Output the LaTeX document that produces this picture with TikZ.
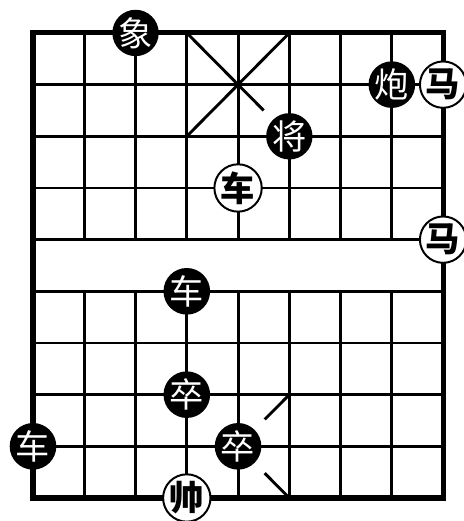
\documentclass[tikz,border=0pt]{standalone}
\usepackage{fontspec}
\newfontfamily\cjk{Noto Sans CJK SC}
\usepackage{tikz}

\tikzset{
    blackpiece/.style={circle, fill=black, text=white, minimum size=0.88cm, inner sep=0pt,
        font=\cjk\fontsize{19}{19}\selectfont},
    redpiece/.style={circle, draw=black, fill=white, line width=1.1pt, minimum size=0.86cm, inner sep=0pt,
        font=\cjk\bfseries\fontsize{19}{19}\selectfont},
}

\begin{document}
\begin{tikzpicture}[x=1cm, y=1.008cm]
    \useasboundingbox (-0.644,-0.445) rectangle (8.39,9.638);
    % grid
    \foreach \j in {1,...,8}
        \draw[line width=1.6pt] (0,\j) -- (8,\j);
    \foreach \i in {1,...,7} {
        \draw[line width=1.6pt] (\i,0) -- (\i,4);
        \draw[line width=1.6pt] (\i,5) -- (\i,9);
    }
    \draw[line width=2.8pt] (0,0) rectangle (8,9);
    % palaces
    \draw[line width=1.6pt] (5,9) -- (3,7);
    \draw[line width=1.6pt] (3,9) -- (4.5,7.5);
    \draw[line width=1.6pt] (5,2) -- (4.52,1.52);
    \draw[line width=1.6pt] (5,0) -- (4.52,0.48);
    % black pieces
    \node[blackpiece] (xiang) at (2,9) {象};
    \node[blackpiece] (pao) at (7,8) {炮};
    \node[blackpiece] (jiang) at (5,7) {将};
    \node[blackpiece] (cheA) at (3,4) {车};
    \node[blackpiece] (zuA) at (3,2) {卒};
    \node[blackpiece] (cheB) at (0,1) {车};
    \node[blackpiece] (zuB) at (4,1) {卒};
    % red pieces
    \node[redpiece] (maA) at (8,8) {马};
    \node[redpiece] (che) at (4,6) {车};
    \node[redpiece] (maB) at (8,5) {马};
    \node[redpiece] (shuai) at (3,0) {帅};
\end{tikzpicture}
\end{document}
